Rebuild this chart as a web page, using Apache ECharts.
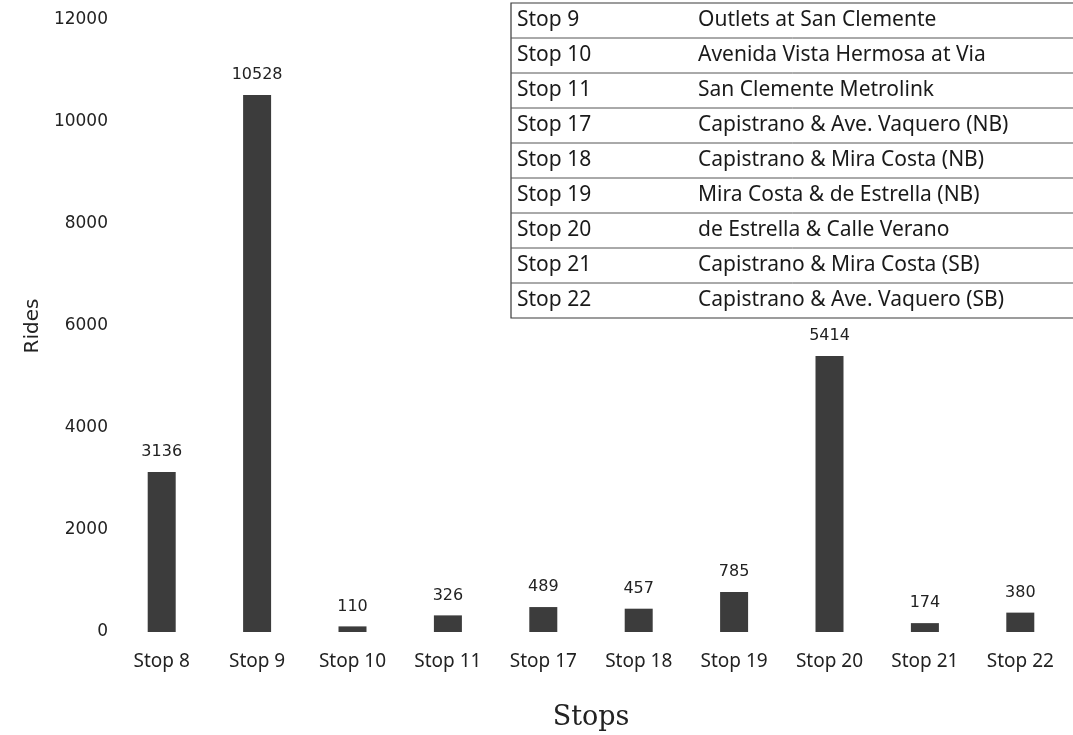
<!DOCTYPE html>
<html>
<head>
<meta charset="utf-8">
<title>Rides by Stop</title>
<script src="https://cdn.jsdelivr.net/npm/echarts@6/dist/echarts.min.js"></script>
<style>
  html, body { margin: 0; padding: 0; background: #fff; }
  #chart { width: 1073px; height: 735px; }
</style>
</head>
<body>
<div id="chart"></div>
<script>
// data
var stops = ['Stop 8', 'Stop 9', 'Stop 10', 'Stop 11', 'Stop 17', 'Stop 18', 'Stop 19', 'Stop 20', 'Stop 21', 'Stop 22'];
var rides = [3136, 10528, 110, 326, 489, 457, 785, 5414, 174, 380];
var yTicks = [0, 2000, 4000, 6000, 8000, 10000, 12000];

// legend table in the upper right (first row is cut off in the scan)
var tableStops = ['Stop 9', 'Stop 10', 'Stop 11', 'Stop 17', 'Stop 18', 'Stop 19', 'Stop 20', 'Stop 21', 'Stop 22'];
var tableNames = ['Outlets at San Clemente', 'Avenida Vista Hermosa at Via', 'San Clemente Metrolink',
  'Capistrano & Ave. Vaquero (NB)', 'Capistrano & Mira Costa (NB)', 'Mira Costa & de Estrella (NB)',
  'de Estrella & Calle Verano', 'Capistrano & Mira Costa (SB)', 'Capistrano & Ave. Vaquero (SB)'];

var font = '"Noto Sans", "Open Sans", sans-serif';
var wide = '"DejaVu Sans", Verdana, sans-serif';

// build the table as graphic elements
var tbl = [];
var tx = 511, ty = 3, rowH = 35;
tbl.push({
  type: 'rect',
  shape: { x: tx, y: ty, width: 600, height: rowH * tableStops.length },
  style: { fill: '#fff', stroke: '#3a3a3a', lineWidth: 1.2 },
  z: 10
});
for (var i = 0; i < tableStops.length; i++) {
  if (i > 0) {
    tbl.push({
      type: 'line',
      shape: { x1: tx, y1: ty + rowH * i, x2: tx + 600, y2: ty + rowH * i },
      style: { stroke: '#555', lineWidth: 1 },
      z: 11
    });
  }
  tbl.push({
    type: 'text',
    x: tx + 6, y: ty + rowH * i + rowH / 2,
    style: { text: tableStops[i], fill: '#1a1a1a', font: '21px ' + font, verticalAlign: 'middle' },
    z: 12
  });
  tbl.push({
    type: 'text',
    x: tx + 187, y: ty + rowH * i + rowH / 2,
    style: { text: tableNames[i], fill: '#1a1a1a', font: '21px ' + font, verticalAlign: 'middle' },
    z: 12
  });
}

var chart = echarts.init(document.getElementById('chart'));
chart.setOption({
  backgroundColor: '#fff',
  animation: false,
  grid: { left: 114, right: 5, top: 20, bottom: 103, containLabel: false, outerBoundsMode: 'none' },
  xAxis: {
    type: 'category',
    data: stops,
    name: 'Stops',
    nameLocation: 'middle',
    nameGap: 72,
    nameTextStyle: { fontFamily: '"DejaVu Serif", serif', fontSize: 27, color: '#222' },
    axisLine: { show: false },
    axisTick: { show: false },
    axisLabel: { margin: 20, fontFamily: font, fontSize: 19, color: '#222', interval: 0 }
  },
  yAxis: {
    type: 'value',
    min: yTicks[0],
    max: yTicks[yTicks.length - 1],
    interval: yTicks[1] - yTicks[0],
    name: 'Rides',
    nameLocation: 'middle',
    nameGap: 64,
    nameRotate: 90,
    nameTextStyle: { fontFamily: wide, fontSize: 20, color: '#222' },
    axisLine: { show: false },
    axisTick: { show: false },
    splitLine: { show: false },
    axisLabel: {
      margin: 6, fontFamily: wide, fontSize: 17, color: '#222',
      formatter: function (v) { return String(v); }
    }
  },
  series: [{
    type: 'bar',
    data: rides,
    barWidth: 28,
    itemStyle: { color: '#3c3c3c' },
    label: { show: true, position: 'top', distance: 12, fontFamily: wide, fontSize: 16, color: '#222' }
  }],
  graphic: tbl
});
</script>
</body>
</html>
